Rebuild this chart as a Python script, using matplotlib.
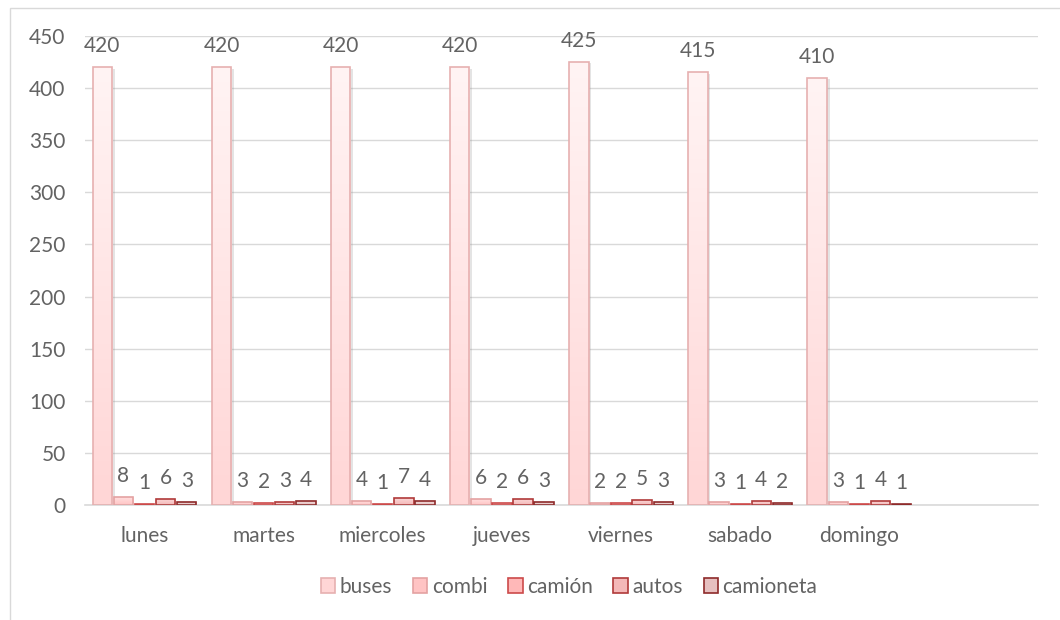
import numpy as np
import matplotlib.pyplot as plt
from matplotlib.patches import Rectangle, Patch
from matplotlib.colors import LinearSegmentedColormap
import matplotlib.patheffects as pe

days = ["lunes", "martes", "miercoles", "jueves", "viernes", "sabado", "domingo"]
series_names = ["buses", "combi", "camión", "autos", "camioneta"]
buses = [420, 420, 420, 420, 425, 415, 410]
combi = [8, 3, 4, 6, 2, 3, 3]
camion = [1, 2, 1, 2, 2, 1, 1]
autos = [6, 3, 7, 6, 5, 4, 4]
camioneta = [3, 4, 4, 3, 3, 2, 1]
y_ticks = [0, 50, 100, 150, 200, 250, 300, 350, 400, 450]

series = [buses, combi, camion, autos, camioneta]
fills_top = ["#FFF4F4", "#FFE2E2", "#FFD8D8", "#FBDADA", "#F2DEDE"]
fills_bot = ["#FFD6D6", "#FFC4C4", "#FFB8B8", "#F4B8B8", "#E6C0C0"]
edges = ["#E6B0B0", "#E4A2A2", "#CC4A4A", "#B03A3A", "#8E2A2A"]

plt.rcParams['font.family'] = ['Lato', 'DejaVu Sans']
text_color = "#636363"
fs = 15

fig = plt.figure(figsize=(10.6, 6.2), dpi=100)
W, H = 1060, 620
ax = fig.add_axes([85 / W, 1 - 505 / H, (1038 - 85) / W, (505 - 36) / H])

# outer chart frame
fig.patches.append(Rectangle((10 / W, -0.1), 1.2, 1 - 8 / H + 0.1,
                             transform=fig.transFigure, fill=False,
                             edgecolor="#D9D9D9", linewidth=1.0, zorder=0))

x = np.arange(len(days))
step = 0.177
width = 0.162
ax.set_xlim(-0.5, 7.5)
ax.set_ylim(0, 450)

for i, vals in enumerate(series):
    offs = (i - 2) * step
    cmap = LinearSegmentedColormap.from_list(f"g{i}", [fills_bot[i], fills_top[i]])
    bars = ax.bar(x + offs, vals, width, color="none", edgecolor=edges[i],
                  linewidth=1.2, zorder=3)
    for b, v in zip(bars, vals):
        bx, by = b.get_x(), b.get_y()
        bw, bh = b.get_width(), b.get_height()
        grad = np.linspace(0, 1, 256).reshape(-1, 1)
        im = ax.imshow(grad, cmap=cmap, origin="lower", aspect="auto",
                       extent=(bx, bx + bw, by, by + bh), zorder=2.5,
                       interpolation="bilinear")
        im.set_clip_path(b)
        if i == 0:
            sh = Rectangle((bx, by), bw, bh, facecolor="#000000", alpha=0.10,
                           edgecolor="none", zorder=2.4,
                           path_effects=[pe.SimplePatchShadow(offset=(2, -1), alpha=0.22,
                                                              shadow_rgbFace="#888888")])
            ax.add_patch(sh)
        ax.annotate(f"{v}", (bx + bw / 2, by + bh), xytext=(0, 8),
                    textcoords="offset points", ha="center", va="bottom",
                    fontsize=fs, color=text_color, zorder=5)

ax.set_xlim(-0.5, 7.5)
ax.set_ylim(0, 450)
ax.set_yticks(y_ticks)
ax.set_xticks(x)
ax.set_xticklabels(days)
ax.tick_params(axis="both", length=0, labelsize=fs, colors=text_color)
ax.tick_params(axis="y", pad=14)
ax.tick_params(axis="x", pad=15)
ax.yaxis.grid(True, color="#D9D9D9", linewidth=1.0, zorder=0)
ax.set_axisbelow(True)
for s in ["top", "right", "left"]:
    ax.spines[s].set_visible(False)
ax.spines["bottom"].set_color("#D9D9D9")
ax.spines["bottom"].set_linewidth(1.2)

handles = [Patch(facecolor=fills_bot[i], edgecolor=edges[i], linewidth=1.2,
                 label=series_names[i]) for i in range(5)]
fig.legend(handles=handles, loc="center", bbox_to_anchor=(569 / W, 1 - 587 / H),
           ncol=5, frameon=False, fontsize=fs, labelcolor=text_color,
           handlelength=0.7, handleheight=0.7, handletextpad=0.2,
           columnspacing=1.0)

fig.savefig("out.png", dpi=100, facecolor="white")
